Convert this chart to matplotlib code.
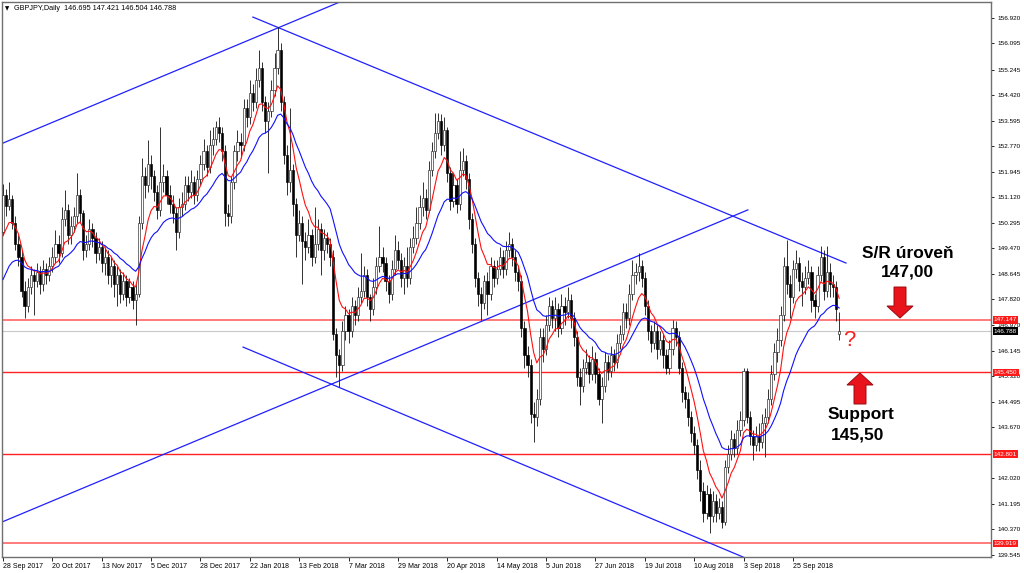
import numpy as np
import pandas as pd
import matplotlib
matplotlib.use('Agg')
import matplotlib.pyplot as plt
import matplotlib.transforms as mtransforms
from matplotlib.patches import Polygon

W, H = 1024, 573

symbol_line = 'GBPJPY,Daily  146.695 147.421 146.504 146.788'
date_labels = ['28 Sep 2017', '20 Oct 2017', '13 Nov 2017', '5 Dec 2017', '28 Dec 2017',
               '22 Jan 2018', '13 Feb 2018', '7 Mar 2018', '29 Mar 2018', '20 Apr 2018',
               '14 May 2018', '5 Jun 2018', '27 Jun 2018', '19 Jul 2018', '10 Aug 2018',
               '3 Sep 2018', '25 Sep 2018']
bars_per_label = 16

# 142.845 sits under the 142.801 box, so it is left out
price_ticks = [156.920, 156.095, 155.245, 154.420, 153.595, 152.770, 151.945, 151.120,
               150.295, 149.470, 148.645, 147.820, 146.970, 146.145, 145.320, 144.495,
               143.670, 142.020, 141.195, 140.370, 139.545]

# closes before the first visible bar (only feed the moving averages)
warmup_closes = [143.6, 144.0, 144.6, 145.3, 146.1, 146.8, 147.4, 148.0, 148.5, 148.9,
                 149.3, 150.0, 150.8, 151.6, 150.8, 149.5, 148.8, 149.0, 149.3, 150.0]

closes = [
    151.20, 150.85, 151.05, 150.30, 149.60, 149.20, 148.10, 147.60, 148.20, 148.60,
    148.40, 148.70, 148.30, 148.80, 148.60, 148.90, 149.20, 149.60, 149.30, 150.40,
    150.70, 149.90, 150.20, 150.50, 151.20, 150.60, 149.40, 149.60, 150.10, 149.80,
    149.30, 149.50, 149.00, 149.20, 148.60, 148.90, 148.30, 148.60, 148.00, 148.40,
    147.90, 148.20, 147.80, 148.00, 150.30, 151.80, 151.50, 152.20, 151.80, 151.30,
    150.70, 151.60, 151.80, 151.20, 150.90, 150.60, 150.00, 150.80, 150.90, 151.50,
    151.30, 151.60, 151.20, 151.70, 152.20, 152.60, 152.10, 152.80, 153.00, 153.40,
    153.20, 152.60, 150.60, 150.50, 151.60, 152.60, 152.90, 152.80, 154.00, 153.70,
    154.50, 154.20, 154.90, 155.30, 154.20, 153.60, 153.90, 154.60, 155.30, 155.90,
    154.20, 152.50, 151.60, 152.00, 150.90, 149.90, 150.30, 149.70, 149.50, 149.90,
    149.20, 149.60, 150.10, 149.40, 149.80, 149.60, 149.20, 146.70, 146.00, 145.70,
    146.80, 147.30, 146.80, 147.60, 147.30, 147.90, 148.10, 148.60, 147.90, 147.50,
    148.20, 148.90, 149.20, 149.00, 148.40, 148.00, 148.80, 149.40, 149.10, 148.50,
    148.90, 148.50, 149.50, 149.80, 150.30, 150.80, 151.10, 150.70, 152.00, 152.60,
    153.20, 153.60, 152.80, 153.30, 151.90, 151.00, 151.50, 150.90, 152.00, 152.30,
    151.70, 150.40, 149.60, 148.50, 148.00, 147.70, 148.40, 148.00, 148.90, 148.50,
    148.80, 149.20, 148.80, 149.40, 149.60, 149.20, 148.70, 148.40, 146.90, 146.00,
    145.70, 144.10, 144.00, 144.60, 146.60, 146.20, 147.00, 147.60, 147.20, 147.50,
    146.90, 147.60, 147.40, 147.80, 147.20, 146.60, 145.30, 145.00, 145.60, 145.80,
    145.40, 145.90, 145.40, 144.60, 145.00, 145.80, 145.50, 146.00, 145.80, 146.40,
    146.70, 147.40, 147.20, 148.00, 148.60, 148.70, 148.90, 148.50, 147.60, 146.80,
    146.40, 146.80, 146.20, 146.50, 146.00, 145.60, 146.20, 146.90, 146.60, 145.60,
    144.80, 144.60, 144.00, 143.50, 143.10, 142.30, 141.60, 140.90, 141.50, 140.80,
    141.30, 140.90, 141.10, 140.60, 142.40, 142.80, 143.30, 143.00, 143.60, 143.90,
    145.50, 144.00, 143.40, 143.10, 143.40, 143.20, 143.80, 144.00, 144.60, 145.40,
    146.10, 146.50, 147.30, 148.90, 148.30, 147.90, 148.80, 149.00, 148.40, 148.20,
    148.50, 148.70, 147.80, 147.60, 148.60, 149.20, 148.10, 148.70, 148.30, 148.20,
    147.50, 146.788]

highs = [
    151.55, 151.40, 151.60, 151.20, 150.50, 149.90, 149.40, 148.40, 148.50, 148.90,
    148.80, 149.00, 148.90, 149.10, 149.00, 149.20, 149.50, 150.06, 149.90, 150.80,
    151.35, 150.90, 150.50, 150.80, 151.90, 151.40, 150.70, 149.90, 150.40, 150.30,
    150.00, 149.80, 149.70, 149.50, 149.40, 149.20, 149.10, 148.90, 148.80, 148.70,
    148.60, 148.50, 148.40, 148.30, 150.50, 152.40, 152.10, 152.97, 152.50, 152.00,
    151.50, 153.40, 152.20, 152.00, 151.50, 151.20, 150.80, 151.10, 151.30, 151.80,
    151.80, 152.00, 151.80, 152.00, 152.50, 153.00, 152.80, 153.30, 153.40, 153.60,
    153.70, 153.40, 152.80, 150.90, 151.80, 152.80, 153.30, 153.20, 154.30, 154.30,
    154.90, 154.80, 155.30, 155.90, 155.50, 154.40, 154.20, 154.90, 155.80, 156.63,
    156.10, 154.40, 152.80, 154.00, 152.20, 151.10, 150.70, 150.50, 150.00, 150.40,
    150.10, 150.80, 150.40, 150.30, 150.10, 150.00, 149.80, 149.40, 146.90, 146.20,
    147.10, 147.60, 147.50, 147.90, 147.80, 148.20, 149.30, 148.90, 148.80, 148.00,
    148.50, 149.20, 150.20, 149.50, 149.20, 148.60, 149.10, 149.90, 149.70, 149.30,
    149.20, 149.50, 149.80, 150.20, 150.80, 151.20, 151.60, 151.40, 152.30, 152.90,
    153.85, 153.85, 153.80, 153.70, 153.40, 152.10, 151.90, 151.70, 152.60, 152.70,
    152.50, 151.90, 150.60, 149.80, 148.70, 148.20, 148.60, 148.70, 149.20, 149.10,
    149.10, 149.50, 149.40, 149.70, 150.00, 149.80, 149.40, 148.90, 148.60, 147.10,
    146.30, 145.90, 144.50, 144.90, 146.90, 146.90, 147.30, 147.90, 147.80, 147.90,
    147.70, 148.00, 147.90, 148.20, 148.00, 147.40, 146.80, 145.60, 145.90, 146.20,
    146.00, 146.30, 146.10, 145.60, 145.30, 146.10, 146.00, 146.30, 146.20, 146.70,
    147.00, 147.70, 147.70, 148.30, 149.10, 149.00, 149.30, 149.10, 148.70, 147.80,
    147.00, 147.10, 147.00, 146.80, 146.70, 146.20, 146.50, 147.15, 147.10, 146.80,
    145.80, 145.00, 144.80, 144.20, 143.70, 143.30, 142.60, 141.90, 141.80, 141.70,
    141.60, 141.50, 141.40, 141.30, 142.60, 143.10, 143.60, 143.50, 143.90, 144.20,
    145.60, 145.60, 144.20, 143.60, 143.70, 143.80, 144.10, 144.30, 144.90, 145.70,
    146.40, 146.90, 147.60, 149.20, 149.74, 148.60, 149.10, 149.40, 149.20, 148.70,
    148.90, 149.10, 148.90, 148.00, 148.90, 149.55, 149.40, 149.55, 149.00, 148.60,
    148.40, 147.421]

lows = [
    149.90, 150.50, 150.70, 150.10, 149.40, 148.90, 147.90, 147.20, 147.40, 148.00,
    147.30, 148.20, 148.00, 148.10, 148.30, 148.40, 148.70, 149.00, 149.00, 149.20,
    150.20, 149.60, 149.60, 150.00, 150.30, 150.30, 149.10, 149.20, 149.40, 149.50,
    149.00, 149.10, 148.70, 148.60, 148.30, 148.20, 147.90, 147.60, 147.70, 147.80,
    147.60, 147.70, 147.50, 146.98, 147.90, 150.10, 151.10, 151.30, 151.40, 151.00,
    150.40, 150.50, 151.30, 150.90, 150.60, 150.30, 149.40, 149.80, 150.50, 150.70,
    151.00, 151.10, 150.90, 151.00, 151.50, 152.00, 151.80, 151.90, 152.50, 152.80,
    152.90, 152.30, 150.20, 150.20, 150.30, 151.40, 152.30, 152.40, 152.60, 153.40,
    153.50, 153.90, 154.00, 154.70, 153.90, 153.20, 151.90, 153.70, 154.40, 155.10,
    153.90, 152.20, 151.20, 151.30, 150.50, 149.20, 149.70, 148.30, 149.10, 149.30,
    148.90, 149.00, 149.40, 148.60, 149.10, 149.30, 148.90, 146.50, 145.30, 144.98,
    145.50, 146.50, 146.40, 146.60, 147.00, 147.10, 147.70, 147.90, 147.60, 147.10,
    147.30, 148.00, 148.70, 148.70, 148.10, 147.70, 147.80, 148.60, 148.80, 148.20,
    148.00, 148.20, 148.30, 149.30, 149.60, 150.10, 150.50, 150.40, 150.60, 151.80,
    152.40, 153.00, 152.50, 152.60, 151.60, 150.70, 150.80, 150.60, 150.70, 151.80,
    151.40, 150.10, 149.30, 148.20, 147.60, 147.15, 147.50, 147.30, 147.80, 148.20,
    148.30, 148.60, 148.50, 148.60, 149.20, 148.90, 148.40, 148.10, 146.60, 145.60,
    145.30, 143.80, 143.20, 143.70, 144.40, 145.80, 146.00, 146.80, 146.90, 146.80,
    146.60, 146.70, 147.00, 147.20, 146.90, 146.30, 145.00, 144.40, 144.80, 145.40,
    145.10, 145.20, 145.10, 144.40, 143.80, 144.80, 145.20, 145.30, 145.50, 145.60,
    146.20, 146.50, 146.90, 147.00, 147.80, 148.30, 148.40, 148.20, 147.30, 146.50,
    146.10, 146.20, 145.90, 146.00, 145.60, 145.40, 145.40, 146.00, 146.30, 145.40,
    144.50, 144.30, 143.70, 143.20, 142.80, 142.00, 141.30, 140.60, 140.70, 140.25,
    140.60, 140.60, 140.70, 140.40, 140.50, 142.20, 142.60, 142.70, 142.80, 143.40,
    143.70, 143.80, 143.10, 142.60, 142.90, 142.90, 143.00, 142.70, 143.80, 144.40,
    145.20, 145.80, 146.30, 147.10, 148.00, 147.20, 147.70, 148.50, 148.10, 147.60,
    148.00, 148.30, 147.40, 147.20, 147.40, 148.40, 147.80, 147.90, 147.90, 147.90,
    147.10, 146.504]

last_open = 146.695

# horizontal levels and the bid line
levels = [147.147, 145.450, 142.801, 139.919]
level_colors = ['#ff7a7a', '#ff2020', '#ff2020', '#ff7a7a']
level_widths = [1.4, 1.0, 1.0, 1.4]
bid = 146.788

# trend lines as (bar, price) anchor pairs
trend_lines = [
    ((-1.0, 152.83), (109.2, 157.44)),
    ((81.0, 156.95), (273.2, 148.99)),
    ((-1.0, 140.58), (241.4, 150.71)),
    ((77.8, 146.27), (241.4, 139.41)),
]

fast_period = 8
slow_period = 21

FONT = ['Liberation Sans', 'DejaVu Sans']


def px(x, y):
    return x / W, 1 - y / H


def arrow(fig, cx, top, bottom, pointing_down):
    shaft, head, head_len = 6, 13, 12
    if pointing_down:
        neck = bottom - head_len
        verts = [(cx - shaft, top), (cx + shaft, top), (cx + shaft, neck), (cx + head, neck),
                 (cx, bottom), (cx - head, neck), (cx - shaft, neck)]
    else:
        neck = top + head_len
        verts = [(cx - shaft, bottom), (cx + shaft, bottom), (cx + shaft, neck), (cx + head, neck),
                 (cx, top), (cx - head, neck), (cx - shaft, neck)]
    poly = Polygon([px(x, y) for x, y in verts], closed=True, transform=fig.transFigure,
                   facecolor='#e8131b', edgecolor='#9c0a0f', linewidth=0.7, zorder=20)
    fig.patches.append(poly)


def main():
    n = len(closes)
    assert len(highs) == n and len(lows) == n
    c = np.array(closes)
    o = np.array([warmup_closes[-1]] + closes[:-1])
    o[-1] = last_open
    hi = np.maximum(np.array(highs), np.maximum(o, c))
    lo = np.minimum(np.array(lows), np.minimum(o, c))
    x = np.arange(n)

    full = pd.Series(warmup_closes + closes)
    fast = full.ewm(span=fast_period, adjust=False).mean().values[len(warmup_closes):]
    slow = full.ewm(span=slow_period, adjust=False).mean().values[len(warmup_closes):]

    fig = plt.figure(figsize=(W / 100, H / 100), dpi=100)
    ax = fig.add_axes([2 / W, 1 - 557 / H, 989 / W, 555 / H])
    ax.set_xlim(-0.32, 320.2)
    ax.set_ylim(139.476, 157.438)

    # levels and bid line
    for lv, col, lw in zip(levels, level_colors, level_widths):
        ax.axhline(lv, color=col, linewidth=lw, zorder=1)
    ax.axhline(bid, color='#c8c8c8', linewidth=0.8, zorder=1)

    # trend lines
    for (x0, y0), (x1, y1) in trend_lines:
        ax.plot([x0, x1], [y0, y1], color='#2020ff', linewidth=0.9, zorder=2)

    # candles
    ax.vlines(x, lo, hi, color='#111111', linewidth=0.6, zorder=3)
    bull = c >= o
    body_lo = np.minimum(o, c)
    body_h = np.maximum(np.abs(c - o), 0.02)
    ax.bar(x[bull], body_h[bull], bottom=body_lo[bull], width=0.72,
           facecolor='white', edgecolor='#222222', linewidth=0.45, zorder=4)
    ax.bar(x[~bull], body_h[~bull], bottom=body_lo[~bull], width=0.72,
           facecolor='black', edgecolor='black', linewidth=0.45, zorder=4)

    # moving averages
    ax.plot(x, fast, color='#ff1010', linewidth=0.8, zorder=5)
    ax.plot(x, slow, color='#1010ff', linewidth=0.8, zorder=5)

    # axes styling in the terminal look
    for side in ax.spines.values():
        side.set_color('#707070')
        side.set_linewidth(1.0)
    ax.yaxis.tick_right()
    ax.set_yticks(price_ticks)
    ax.set_yticklabels(['{:.3f}'.format(p) for p in price_ticks])
    ax.tick_params(axis='y', length=2.5, width=0.6, pad=2, labelsize=4.6, colors='black')
    ticks = [i * bars_per_label for i in range(len(date_labels))]
    ax.set_xticks(ticks)
    ax.set_xticklabels(date_labels)
    ax.tick_params(axis='x', length=3, width=0.6, pad=1.5, labelsize=5, colors='black')
    for lbl in ax.get_xticklabels():
        lbl.set_ha('left')
        lbl.set_family(FONT)
    for lbl in ax.get_yticklabels():
        lbl.set_family(FONT)

    # price boxes on the axis
    trans = mtransforms.blended_transform_factory(ax.transAxes, ax.transData)
    for lv in levels:
        ax.text(1.003, lv, '{:.3f}'.format(lv), transform=trans, ha='left', va='center',
                fontsize=4.6, color='white', family=FONT,
                bbox=dict(boxstyle='square,pad=0.2', fc='#ff1a1a', ec='none'),
                clip_on=False, zorder=10)
    ax.text(1.003, bid, '{:.3f}'.format(bid), transform=trans, ha='left', va='center',
            fontsize=4.6, color='white', family=FONT,
            bbox=dict(boxstyle='square,pad=0.2', fc='black', ec='none'),
            clip_on=False, zorder=10)

    # symbol line
    fig.text(*px(5, 9), '\u25bc', fontsize=4, va='center', ha='left', family='DejaVu Sans')
    fig.text(*px(14, 9), symbol_line, fontsize=5.2, va='center', ha='left', family=FONT)

    # annotations
    bold = dict(fontsize=12.5, fontweight='bold', ha='center', va='center',
                family=FONT, color='black')
    fig.text(*px(908, 253), 'S/R úroveň', **bold)
    fig.text(*px(907, 272), '147,00', **bold)
    fig.text(*px(861, 415), 'Support', **bold)
    fig.text(*px(858, 435), '145,50', **bold)
    fig.text(*px(849, 341), '?', fontsize=16, ha='center', va='center', color='#ff2020',
             family=FONT)
    arrow(fig, 900, 287, 318, True)
    arrow(fig, 860, 373, 404, False)

    fig.savefig('out.png', dpi=100)


if __name__ == '__main__':
    main()
